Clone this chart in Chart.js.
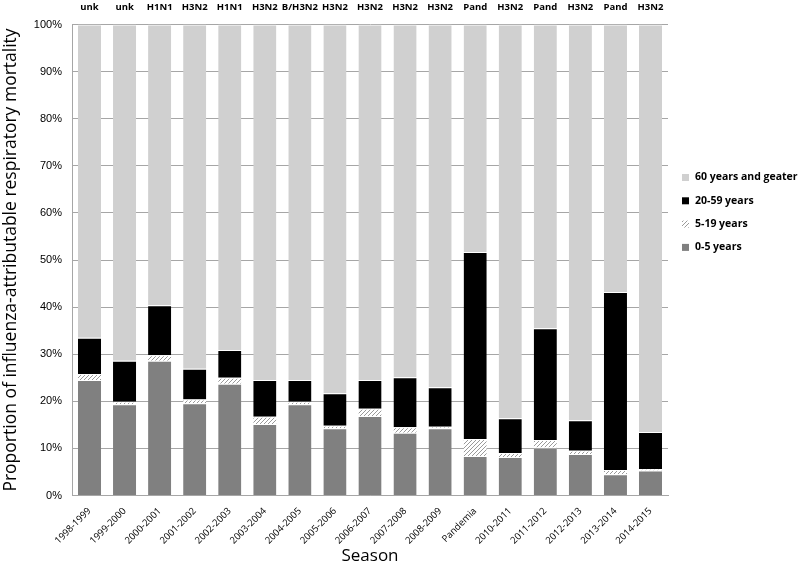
<!DOCTYPE html>
<html>
<head>
<meta charset="utf-8">
<title>Influenza-attributable respiratory mortality by age</title>
<script src="https://cdn.jsdelivr.net/npm/chart.js@4.4.0/dist/chart.umd.min.js"></script>
<style>
  html, body { margin: 0; padding: 0; background: #fff; }
  #wrap { width: 800px; height: 584px; position: relative; }
</style>
</head>
<body>
<div id="wrap"><canvas id="mortality-chart"></canvas></div>
<script>
// seasons and dominant subtype per season
const seasons = ['1998-1999', '1999-2000', '2000-2001', '2001-2002', '2002-2003', '2003-2004',
  '2004-2005', '2005-2006', '2006-2007', '2007-2008', '2008-2009', 'Pandemia',
  '2010-2011', '2011-2012', '2012-2013', '2013-2014', '2014-2015'];
const subtypes = ['unk', 'unk', 'H1N1', 'H3N2', 'H1N1', 'H3N2', 'B/H3N2', 'H3N2', 'H3N2',
  'H3N2', 'H3N2', 'Pand', 'H3N2', 'Pand', 'H3N2', 'Pand', 'H3N2'];

// share of mortality (%) per age group
const age0to5   = [24.5, 19.4, 28.6, 19.6, 23.7, 15.2, 19.4, 14.3, 16.9, 13.3, 14.3, 8.4, 8.2, 10.2, 8.8, 4.5, 5.3];
const age5to19  = [1.3, 0.5, 1.2, 0.8, 1.3, 1.5, 0.5, 0.5, 1.5, 1.2, 0.3, 3.6, 0.8, 1.6, 0.7, 0.9, 0.3];
const age20to59 = [7.7, 8.7, 10.6, 6.5, 5.9, 7.8, 4.6, 6.9, 6.1, 10.6, 8.4, 39.7, 7.4, 23.7, 6.5, 37.8, 7.9];
const age60plus = [66.5, 71.4, 59.6, 73.1, 69.1, 75.5, 75.5, 78.3, 75.5, 74.9, 77.0, 48.3, 83.6, 64.5, 84.0, 56.8, 86.5];

const yTicks = [0, 10, 20, 30, 40, 50, 60, 70, 80, 90, 100];

/**
 * Diagonal hatch used for the 5-19 group
 */
function makeHatch() {
  const c = document.createElement('canvas');
  c.width = 4; c.height = 4;
  const g = c.getContext('2d');
  g.fillStyle = '#ffffff';
  g.fillRect(0, 0, 4, 4);
  g.strokeStyle = '#9a9a9a';
  g.lineWidth = 1;
  g.beginPath();
  g.moveTo(0, 4); g.lineTo(4, 0);
  g.moveTo(-1, 1); g.lineTo(1, -1);
  g.moveTo(3, 5); g.lineTo(5, 3);
  g.stroke();
  return g.createPattern(c, 'repeat');
}
const hatch = makeHatch();

const FONT = "'Open Sans', 'Liberation Sans', sans-serif";
const GRID = '#a6a6a6';

// legend drawn at the right, top item = last dataset
const sideLegend = {
  id: 'sideLegend',
  afterDraw(chart) {
    const ctx = chart.ctx;
    const items = chart.data.datasets.slice().reverse();
    ctx.save();
    ctx.font = 'bold 10.5px ' + FONT;
    ctx.textBaseline = 'middle';
    items.forEach((ds, i) => {
      const y = 177.5 + i * 23.3;
      ctx.fillStyle = ds.backgroundColor;
      ctx.fillRect(682, y - 3.5, 7, 7);
      ctx.fillStyle = '#000';
      ctx.fillText(ds.label, 695, y);
    });
    ctx.restore();
  }
};

const barOpts = {
  stack: 'all',
  borderColor: '#ffffff',
  borderWidth: { top: 1, left: 0, right: 0, bottom: 0 },
  borderSkipped: false,
  categoryPercentage: 1,
  barPercentage: 0.66,
};

new Chart(document.getElementById('mortality-chart'), {
  type: 'bar',
  data: {
    labels: seasons,
    datasets: [
      { label: '0-5 years', data: age0to5, backgroundColor: '#808080', ...barOpts },
      { label: '5-19 years', data: age5to19, backgroundColor: hatch, ...barOpts },
      { label: '20-59 years', data: age20to59, backgroundColor: '#000000', ...barOpts },
      { label: '60 years and geater', data: age60plus, backgroundColor: '#d0d0d0', ...barOpts },
    ]
  },
  options: {
    responsive: true,
    maintainAspectRatio: false,
    animation: false,
    layout: { padding: { left: 0, right: 132, top: 0, bottom: 0 } },
    plugins: {
      legend: { display: false },
      tooltip: { enabled: false },
    },
    scales: {
      x: {
        stacked: true,
        grid: { display: false },
        border: { display: true, color: GRID },
        ticks: {
          color: '#000',
          font: { family: FONT, size: 9.5 },
          minRotation: 45,
          maxRotation: 45,
          autoSkip: false,
          padding: 2,
        },
        title: {
          display: true,
          text: 'Season',
          color: '#000',
          font: { family: FONT, size: 17 },
          padding: { top: 0, bottom: 18 },
        },
        afterFit: (s) => { s.height = 88.5; },
      },
      x2: {
        type: 'category',
        position: 'top',
        labels: subtypes,
        offset: true,
        display: true,
        grid: { display: false, drawTicks: false },
        border: { display: false },
        ticks: {
          color: '#000',
          font: { family: FONT, size: 9.5, weight: 'bold' },
          maxRotation: 0,
          autoSkip: false,
          padding: 12,
        },
        afterFit: (s) => { s.height = 24.5; },
      },
      y: {
        stacked: true,
        min: 0,
        max: 100,
        afterBuildTicks: (s) => { s.ticks = yTicks.map(v => ({ value: v })); },
        grid: { color: GRID, drawTicks: false },
        border: { display: true, color: GRID },
        ticks: {
          color: '#000',
          font: { family: "'Liberation Sans', Arial, sans-serif", size: 11 },
          padding: 10,
          callback: (v) => v + '%',
        },
        title: {
          display: true,
          text: 'Proportion of influenza-attributable respiratory mortality',
          color: '#000',
          font: { family: FONT, size: 17.5 },
          padding: { top: 1, bottom: 0 },
        },
        afterFit: (s) => { s.width = 72; },
      }
    }
  },
  plugins: [sideLegend]
});
</script>
</body>
</html>
